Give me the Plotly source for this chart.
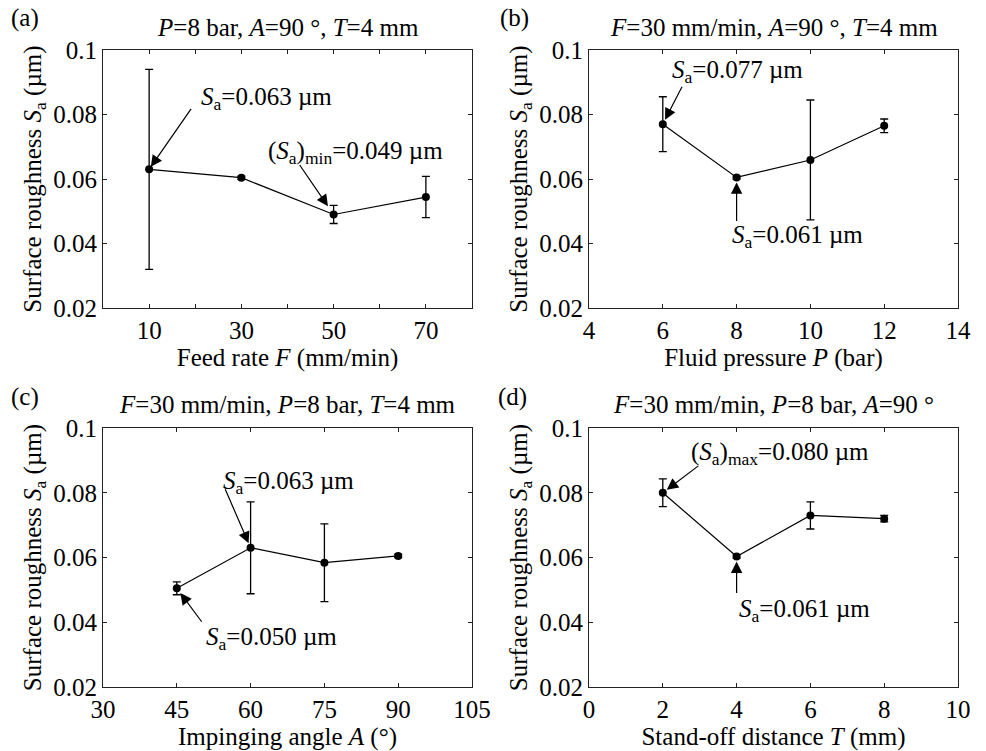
import plotly.graph_objects as go
from plotly.subplots import make_subplots

# ---- data ----
feed_rate = [10, 30, 50, 70]
sa_feed = [0.063, 0.0604, 0.049, 0.0544]
err_feed = [0.031, 0.0005, 0.0028, 0.0064]

pressure = [6, 8, 10, 12]
sa_pressure = [0.077, 0.0605, 0.0659, 0.0765]
err_pressure = [0.0085, 0.0005, 0.0186, 0.0021]

angle = [45, 60, 75, 90]
sa_angle = [0.0505, 0.063, 0.0584, 0.0605]
err_angle = [0.002, 0.0142, 0.012, 0.0005]

standoff = [2, 4, 6, 8]
sa_standoff = [0.080, 0.0603, 0.073, 0.072]
err_standoff = [0.0043, 0.0005, 0.0042, 0.001]

y_ticks = [0.02, 0.04, 0.06, 0.08, 0.1]
y_ticklabels = ["0.02", "0.04", "0.06", "0.08", "0.1"]

xa_ticks = [0, 10, 20, 30, 40, 50, 60, 70, 80]
xa_labels = ["", "10", "", "30", "", "50", "", "70", ""]
xb_ticks = [4, 6, 8, 10, 12, 14]
xc_ticks = [30, 45, 60, 75, 90, 105]
xd_ticks = [0, 2, 4, 6, 8, 10]

panel_titles = [
    "<i>P</i>=8 bar, <i>A</i>=90 °, <i>T</i>=4 mm",
    "<i>F</i>=30 mm/min, <i>A</i>=90 °, <i>T</i>=4 mm",
    "<i>F</i>=30 mm/min, <i>P</i>=8 bar, <i>T</i>=4 mm",
    "<i>F</i>=30 mm/min, <i>P</i>=8 bar, <i>A</i>=90 °",
]
panel_labels = ["(a)", "(b)", "(c)", "(d)"]
x_titles = [
    "Feed rate <i>F</i> (mm/min)",
    "Fluid pressure <i>P</i> (bar)",
    "Impinging angle <i>A</i> (°)",
    "Stand-off distance <i>T</i> (mm)",
]
y_title = "Surface roughness <i>S</i><sub>a</sub> (µm)"

FONT = "Liberation Serif, Tinos, Times New Roman, serif"
FS = 25
W, H = 986, 751

# panel boxes in pixels (left, right, top, bottom)
boxes = [(103, 472, 50, 308), (589, 958, 50, 308),
         (103, 472, 428, 687), (589, 958, 428, 687)]

fig = make_subplots(rows=2, cols=2)

series = [
    (feed_rate, sa_feed, err_feed),
    (pressure, sa_pressure, err_pressure),
    (angle, sa_angle, err_angle),
    (standoff, sa_standoff, err_standoff),
]
pos = [(1, 1), (1, 2), (2, 1), (2, 2)]
for (xs, ys, es), (r, c) in zip(series, pos):
    fig.add_trace(go.Scatter(
        x=xs, y=ys, mode="lines+markers",
        line=dict(color="black", width=1.2),
        marker=dict(color="black", size=8),
        error_y=dict(type="data", array=es, color="black", thickness=1.3, width=4),
        showlegend=False,
    ), row=r, col=c)

x_ranges = [[0, 80], [4, 14], [30, 105], [0, 10]]
x_tickvals = [xa_ticks, xb_ticks, xc_ticks, xd_ticks]
x_ticktext = [xa_labels, [str(v) for v in xb_ticks], [str(v) for v in xc_ticks],
              [str(v) for v in xd_ticks]]

for i, (r, c) in enumerate(pos):
    l, rr, t, b = boxes[i]
    xdom = [l / W, rr / W]
    ydom = [1 - b / H, 1 - t / H]
    fig.update_xaxes(domain=xdom, range=x_ranges[i], tickvals=x_tickvals[i],
                     ticktext=x_ticktext[i],
                     showline=True, linecolor="#222", linewidth=1, mirror="allticks",
                     ticks="inside", ticklen=4, tickcolor="#222", showgrid=False, zeroline=False,
                     tickfont=dict(family=FONT, size=FS, color="black"),
                     title=dict(text=x_titles[i], font=dict(family=FONT, size=FS, color="black"),
                                standoff=2),
                     row=r, col=c)
    fig.update_yaxes(domain=ydom, range=[0.02, 0.1], tickvals=y_ticks,
                     ticktext=y_ticklabels,
                     showline=True, linecolor="#222", linewidth=1, mirror="allticks",
                     ticks="inside", ticklen=4, tickcolor="#222", showgrid=False, zeroline=False,
                     tickfont=dict(family=FONT, size=FS, color="black"),
                     title=dict(text=y_title, font=dict(family=FONT, size=FS, color="black"),
                                standoff=4),
                     row=r, col=c)

annotations = []
title_y = [27, 27, 405, 405]
label_pos = [(25, 18), (514, 18), (25, 397), (512, 397)]
for i in range(4):
    l, rr, t, b = boxes[i]
    annotations.append(dict(
        text=panel_titles[i], xref="paper", yref="paper",
        x=(l + rr) / 2 / W, y=1 - title_y[i] / H, xanchor="center", yanchor="middle",
        showarrow=False, font=dict(family=FONT, size=FS, color="black")))
    lx, ly = label_pos[i]
    annotations.append(dict(
        text=panel_labels[i], xref="paper", yref="paper",
        x=lx / W, y=1 - ly / H, xanchor="center", yanchor="middle",
        showarrow=False, font=dict(family=FONT, size=FS, color="black")))

# callouts: (panel index, point index, text, xshift, yshift, ax, ay, standoff)
callouts = [
    (0, 0, "<i>S</i><sub>a</sub>=0.063 µm", 50, 71, 43, -62, 3),
    (0, 2, "(<i>S</i><sub>a</sub>)<sub>min</sub>=0.049 µm", -68, 62, -35, -51, 10),
    (1, 0, "<i>S</i><sub>a</sub>=0.077 µm", 7, 53, 20, -39, 5),
    (1, 1, "<i>S</i><sub>a</sub>=0.061 µm", -7, -59, 0, 45, 5),
    (2, 1, "<i>S</i><sub>a</sub>=0.063 µm", -30, 65, -26, -60, 5),
    (2, 0, "<i>S</i><sub>a</sub>=0.050 µm", 27, -50, 26, 35, 6),
    (3, 0, "(<i>S</i><sub>a</sub>)<sub>max</sub>=0.080 µm", 26, 39, 37, -28, 5),
    (3, 1, "<i>S</i><sub>a</sub>=0.061 µm", 0, -54, 0, 38, 5),
]
refs = [("x", "y"), ("x2", "y2"), ("x3", "y3"), ("x4", "y4")]
for p, k, txt, xs, ys, ax, ay, so in callouts:
    xr, yr = refs[p]
    px = series[p][0][k]
    py = series[p][1][k]
    annotations.append(dict(
        text=txt, xref=xr, yref=yr, x=px, y=py, xanchor="left", yanchor="middle",
        xshift=xs, yshift=ys, showarrow=False,
        font=dict(family=FONT, size=FS, color="black")))
    annotations.append(dict(
        text="", xref=xr, yref=yr, x=px, y=py, ax=ax, ay=ay,
        showarrow=True, arrowhead=2, arrowsize=1.9, arrowwidth=1.2,
        arrowcolor="black", standoff=so))

fig.update_layout(
    template="none",
    width=W, height=H, margin=dict(l=0, r=0, t=0, b=0),
    paper_bgcolor="white", plot_bgcolor="white",
    font=dict(family=FONT, size=FS, color="black"),
    annotations=annotations,
)

force_font = (
    "var fixFonts=function(){document.querySelectorAll('svg text').forEach(function(t){"
    "t.style.fontFamily='\"Liberation Serif\", Tinos, serif';});};"
    "fixFonts(); setTimeout(fixFonts, 50); setTimeout(fixFonts, 300);"
)

fig.write_html("out.html", post_script=force_font)
